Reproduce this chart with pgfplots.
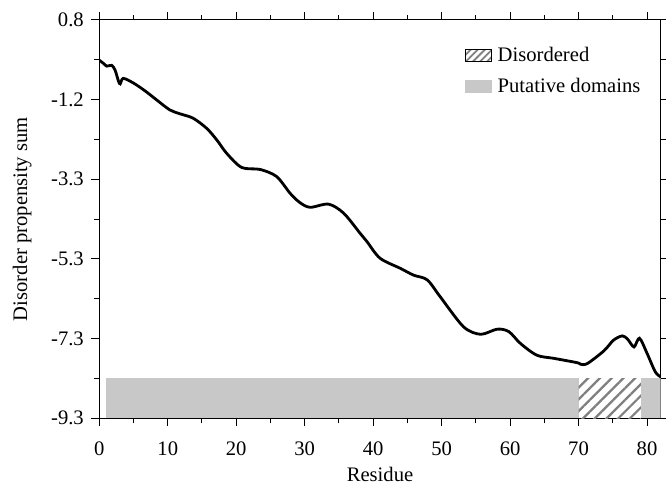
\documentclass[border=0pt]{standalone}
\usepackage{fontspec}
\setmainfont{Liberation Serif}
\usepackage{pgfplots}
\pgfplotsset{compat=1.18}
\usetikzlibrary{patterns.meta,calc}
\definecolor{bargray}{RGB}{200,200,200}
\definecolor{hatchgray}{RGB}{128,128,128}
\begin{document}
\begin{tikzpicture}[font=\fontsize{20.7}{24}\selectfont]
\begin{axis}[
  scale only axis, width=561.4bp, height=398.3bp,
  xmin=0, xmax=82, ymin=-9.3, ymax=0.8,
  xtick={0,10,...,80}, minor x tick num=1,
  ytick={0.8,-1.22,-3.24,-5.26,-7.28,-9.3},
  yticklabels={0.8,-1.2,-3.3,-5.3,-7.3,-9.3},
  minor ytick={-0.21,-2.23,-4.25,-6.27,-8.29},
  tick align=outside, tick pos=both,
  major tick length=8bp, minor tick length=5bp,
  every tick/.style={black, line width=1bp},
  axis line style={line width=1bp},
  /pgf/number format/assume math mode=true,
  xticklabel style={yshift=-12bp},
  yticklabel style={xshift=-4bp},
  xlabel={Residue}, ylabel={Disorder propensity sum},
  every axis x label/.style={at={([yshift=-63bp]axis description cs:0.5,0)}, anchor=base},
  every axis y label/.style={at={([xshift=-77bp]axis description cs:0,0.5)}, anchor=center, rotate=90},
  legend style={draw=none, fill=none, at={(0.645,0.942)}, anchor=north west,
    row sep=11bp, font=\fontsize{20.7}{24}\selectfont},
  legend cell align=left,
]
\coordinate (ll) at (rel axis cs:0,0);
\coordinate (ur) at (rel axis cs:1,1);
\addlegendimage{legend image code/.code={\path[fill=white] (0bp,-6bp) rectangle (26bp,6bp); \path[pattern={Lines[angle=45,distance=5bp,line width=1.8bp]}, pattern color=hatchgray] (0bp,-6bp) rectangle (26bp,6bp); \path (30bp,0bp);}}
\addlegendentry{Disordered}
\addlegendimage{legend image code/.code={\fill[bargray] (0bp,-6bp) rectangle (26bp,6bp); \path (30bp,0bp);}}
\addlegendentry{Putative domains}
\addplot[draw=none, fill=bargray, forget plot] coordinates {(1,-9.3) (1,-8.29) (82,-8.29) (82,-9.3)} -- cycle;
\addplot[draw=none, fill=white, forget plot] coordinates {(70,-9.3) (70,-8.29) (79.1,-8.29) (79.1,-9.3)} -- cycle;
\addplot[draw=none, pattern={Lines[angle=45,distance=8.3bp,line width=2.2bp]}, pattern color=hatchgray, forget plot] coordinates {(70,-9.3) (70,-8.29) (79.1,-8.29) (79.1,-9.3)} -- cycle;
\addplot[black, line width=2.8bp, smooth, tension=0.5, forget plot] coordinates {
(0,-0.22) (0.6,-0.3) (1.1,-0.37) (1.8,-0.35) (2.3,-0.47) (2.8,-0.75) (3.05,-0.82)
(3.5,-0.68) (5.0,-0.8) (6.7,-1.0) (8.4,-1.23) (10.3,-1.48) (11.8,-1.58) (13.7,-1.69)
(15.7,-1.95) (17.2,-2.25) (18.6,-2.58) (20.8,-2.94) (23.5,-2.99) (25.9,-3.17)
(27.9,-3.6) (29.3,-3.83) (30.8,-3.95) (33.5,-3.87) (35.7,-4.1) (38.1,-4.61)
(39.1,-4.82) (41.0,-5.24) (44.0,-5.5) (45.9,-5.67) (47.9,-5.79) (49.8,-6.22)
(53.2,-6.98) (55.7,-7.17) (58.1,-7.04) (59.8,-7.1) (61.5,-7.4) (63.9,-7.7)
(66.4,-7.78) (69.8,-7.89) (70.3,-7.93) (71.3,-7.91) (73.7,-7.59) (75.1,-7.32)
(76.4,-7.21) (77.2,-7.3) (78.1,-7.49) (78.9,-7.27) (80.0,-7.65) (81.2,-8.12) (82,-8.25)
};
\end{axis}
\pgfresetboundingbox
\path[use as bounding box] ($(ll)+(-99.3bp,-66.7bp)$) rectangle ($(ur)+(5.3bp,20bp)$);
\end{tikzpicture}
\end{document}
